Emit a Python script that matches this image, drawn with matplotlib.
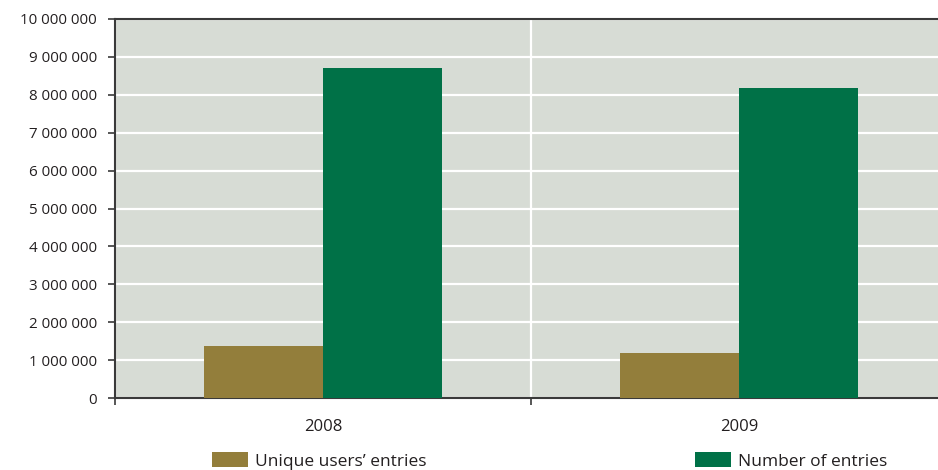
import numpy as np
import matplotlib.pyplot as plt
from matplotlib.patches import Patch
from matplotlib.ticker import FixedLocator, FuncFormatter

plt.rcParams['font.family'] = ['Open Sans', 'DejaVu Sans']

# datos
years = ['2008', '2009']
unique_users = [1370000, 1200000]
entries = [8720000, 8190000]
series_names = ['Unique users\u2019 entries', 'Number of entries']

col_olive = '#937e3b'
col_green = '#007147'
fondo = '#d7dcd5'
texto = '#231f20'

fig = plt.figure(figsize=(9.38, 4.70), dpi=100)
ax = fig.add_axes([115 / 938, 1 - 398 / 470, 832 / 938, 379 / 470])
ax.set_facecolor(fondo)

x = np.arange(len(years))
w = 0.286
ax.bar(x - w / 2, unique_users, w, color=col_olive, zorder=3)
ax.bar(x + w / 2, entries, w, color=col_green, zorder=3)

ax.set_xlim(-0.5, 1.5)
ax.set_ylim(0, 10000000)

# ticks del eje y con espacios como separador de miles
ax.set_yticks(np.arange(0, 10000001, 1000000))
ax.yaxis.set_major_formatter(FuncFormatter(lambda v, p: '{:,.0f}'.format(v).replace(',', ' ')))
ax.grid(axis='y', color='white', linewidth=1.6, zorder=1)

# separadores entre categorias en el eje x
ax.xaxis.set_major_locator(FixedLocator([-0.5, 0.5]))
ax.xaxis.set_major_formatter(FuncFormatter(lambda v, p: ''))
ax.grid(axis='x', color='white', linewidth=1.6, zorder=1)
for i, yr in enumerate(years):
    ax.text(i, -0.055, yr, transform=ax.get_xaxis_transform(), ha='center', va='top',
            fontsize=12, color=texto)

for lado in ['top', 'left', 'bottom']:
    ax.spines[lado].set_color('#3a3a3a')
    ax.spines[lado].set_linewidth(1.5)
ax.spines['right'].set_visible(False)
ax.tick_params(axis='y', length=5, width=1.2, color='#3a3a3a', labelsize=10.9,
               labelcolor=texto, pad=8)
ax.tick_params(axis='x', length=5, width=1.2, color='#3a3a3a')

# leyenda en dos bloques
h1 = [Patch(facecolor=col_olive, edgecolor='none')]
h2 = [Patch(facecolor=col_green, edgecolor='none')]
kw = dict(frameon=False, fontsize=12.5, handlelength=2.1, handleheight=0.9,
          handletextpad=0.4, borderpad=0, borderaxespad=0, loc='center left',
          labelcolor=texto)
fig.legend(h1, [series_names[0]], bbox_to_anchor=(212 / 938, 1 - 461 / 470), **kw)
fig.legend(h2, [series_names[1]], bbox_to_anchor=(695 / 938, 1 - 461 / 470), **kw)

plt.savefig('out.png', dpi=100)
